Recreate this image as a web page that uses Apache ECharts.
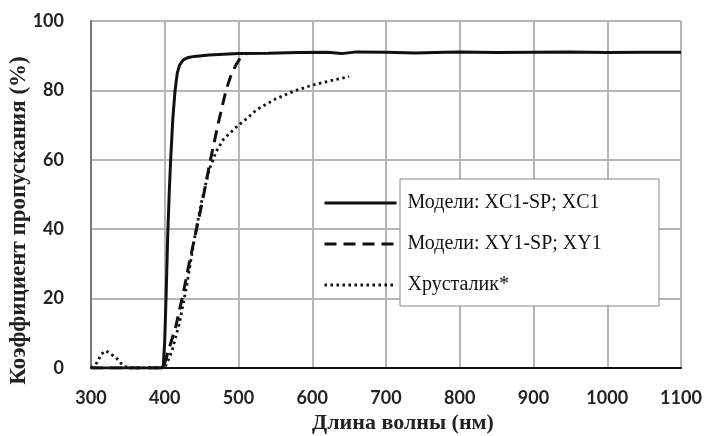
<!DOCTYPE html>
<html>
<head>
<meta charset="utf-8">
<script src="https://cdn.jsdelivr.net/npm/echarts@6/dist/echarts.min.js"></script>
<style>
  html, body { margin: 0; padding: 0; background: #fff; }
  #chart { width: 706px; height: 436px; }
</style>
</head>
<body>
<div id="chart"></div>
<script>
// series names
var names = ['Модели: XC1-SP; XC1', 'Модели: XY1-SP; XY1', 'Хрусталик*'];

// XC1 (solid)
var xc1X = [300, 350, 395, 398, 400, 402, 404, 406, 408, 411, 414, 417, 420, 425, 432, 440, 460, 500, 540, 580, 620, 640, 660, 700, 740, 780, 800, 850, 900, 950, 1000, 1050, 1100];
var xc1Y = [0, 0, 0, 0.5, 8, 22, 38, 50, 60, 72, 80, 85, 87.3, 88.8, 89.5, 89.8, 90.2, 90.6, 90.7, 90.9, 91.0, 90.6, 91.1, 91.0, 90.8, 91.0, 91.1, 90.9, 91.0, 91.1, 90.9, 91.0, 91.0];

// XY1 (dashed)
var xy1X = [300, 350, 398, 400, 405, 415, 424, 433, 442, 451, 462, 472, 483, 490, 497, 503, 510];
var xy1Y = [0, 0, 0, 0.5, 5, 12, 20.5, 30, 39, 48, 60, 70, 80, 84.5, 87.5, 89.5, 90.4];

// lens (dotted)
var lensX = [300, 308, 314, 320, 327, 334, 340, 346, 352, 380, 400, 410, 420, 430, 440, 450, 460, 470, 480, 490, 500, 512, 525, 550, 575, 600, 625, 650];
var lensY = [0, 1.5, 4, 5, 4, 3, 1.5, 0.5, 0, 0, 0, 5, 13, 24, 37, 48, 57, 62.5, 66, 68, 70, 72, 74.5, 77.5, 79.8, 81.5, 82.8, 84];

function pairs(xs, ys) {
  return xs.map(function (x, i) { return [x, ys[i]]; });
}

var chart = echarts.init(document.getElementById('chart'));
var tickFont = { fontFamily: 'Lato', fontWeight: 'bold', fontSize: 18, color: '#222' };

var option = {
  backgroundColor: '#fff',
  animation: false,
  grid: { left: 91, right: 25, top: 21, bottom: 68, containLabel: false, outerBoundsMode: 'none' },
  xAxis: {
    type: 'value',
    min: 300, max: 1100, interval: 100,
    name: 'Длина волны (нм)',
    nameLocation: 'middle',
    nameGap: 44,
    nameMoveOverlap: false,
    nameTextStyle: { fontFamily: 'Liberation Serif', fontWeight: 'bold', fontSize: 22, color: '#222', padding: [0, 0, 0, 34] },
    axisLine: { lineStyle: { color: '#111', width: 2 } },
    axisTick: { show: false },
    axisLabel: Object.assign({ margin: 21, formatter: function (v) { return String(v); } }, tickFont),
    splitLine: { lineStyle: { color: '#b5b5b5', width: 2 } }
  },
  yAxis: {
    type: 'value',
    min: 0, max: 100, interval: 20,
    name: 'Коэффициент пропускания (%)',
    nameLocation: 'middle',
    nameGap: 60,
    nameMoveOverlap: false,
    nameTextStyle: { fontFamily: 'Liberation Serif', fontWeight: 'bold', fontSize: 23, color: '#222', padding: [0, 52, 0, 0] },
    axisLine: { show: true, lineStyle: { color: '#777', width: 2 } },
    axisTick: { show: false },
    axisLabel: Object.assign({ margin: 27 }, tickFont),
    splitLine: { lineStyle: { color: '#b5b5b5', width: 2 } }
  },
  legend: {
    orient: 'vertical',
    left: 318,
    top: 187,
    itemWidth: 72,
    itemHeight: 14,
    itemGap: 19,
    itemStyle: { opacity: 0 },
    lineStyle: { width: 3 },
    textStyle: { fontFamily: 'Liberation Serif', fontSize: 20, color: '#111', lineHeight: 22, padding: [0, 0, 0, 6] },
    data: names
  },
  graphic: {
    elements: [{
      type: 'rect',
      z: 3,
      shape: { x: 400, y: 179, width: 259, height: 127 },
      style: { fill: '#fff', stroke: '#888', lineWidth: 1 }
    }]
  },
  series: [
    {
      name: names[0], type: 'line', showSymbol: false, symbol: 'none', z: 5,
      lineStyle: { color: '#111', width: 3 },
      itemStyle: { color: '#111' },
      data: pairs(xc1X, xc1Y)
    },
    {
      name: names[1], type: 'line', showSymbol: false, symbol: 'none', z: 4,
      lineStyle: { color: '#111', width: 3, type: [12, 7] },
      itemStyle: { color: '#111' },
      data: pairs(xy1X, xy1Y)
    },
    {
      name: names[2], type: 'line', showSymbol: false, symbol: 'none', z: 4,
      lineStyle: { color: '#111', width: 2.8, type: [2.5, 3.5] },
      itemStyle: { color: '#111' },
      data: pairs(lensX, lensY)
    }
  ]
};

chart.setOption(option);
</script>
</body>
</html>
